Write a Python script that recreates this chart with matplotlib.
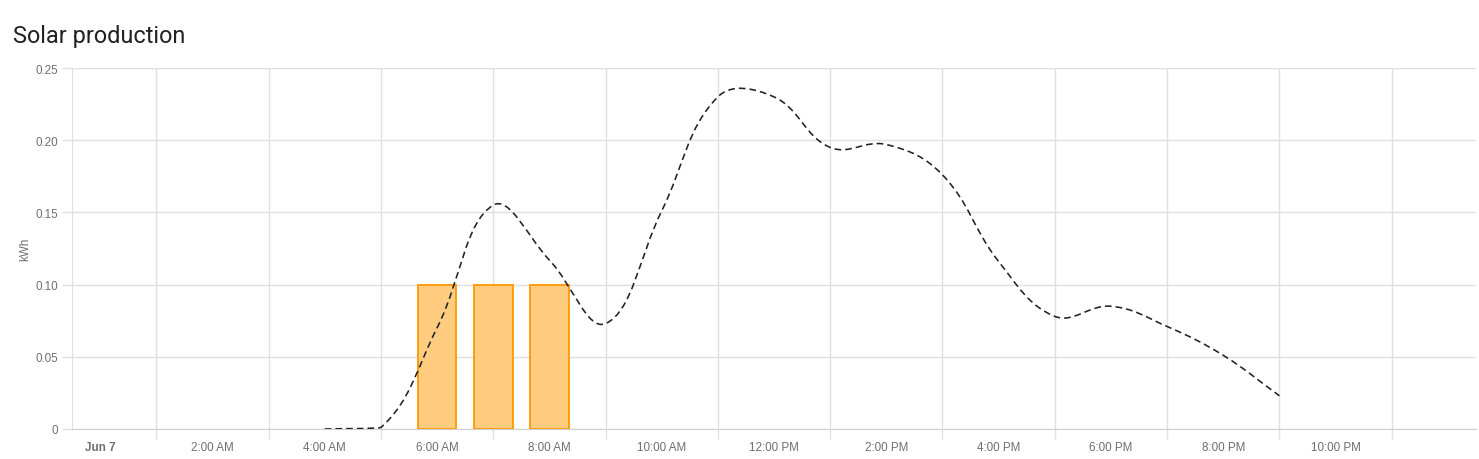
import numpy as np
import matplotlib
matplotlib.use("Agg")
import matplotlib.pyplot as plt
from matplotlib.path import Path
from matplotlib.patches import PathPatch

# hourly solar production (bars)
bar_hours = [6, 7, 8]
bar_values = [0.1, 0.1, 0.1]

# hourly forecast (dashed line)
forecast_hours = [4, 5, 6, 7, 8, 9, 10, 11, 12, 13, 14, 15, 16, 17, 18, 19, 20, 21]
forecast_values = [0.0, 0.001, 0.07, 0.155, 0.117, 0.073, 0.151, 0.23, 0.23,
                   0.195, 0.197, 0.176, 0.116, 0.078, 0.085, 0.071, 0.051, 0.023]

label_hours = [0, 2, 4, 6, 8, 10, 12, 14, 16, 18, 20, 22]
label_texts = ["Jun 7", "2:00 AM", "4:00 AM", "6:00 AM", "8:00 AM", "10:00 AM",
               "12:00 PM", "2:00 PM", "4:00 PM", "6:00 PM", "8:00 PM", "10:00 PM"]
y_ticks = [0, 0.05, 0.10, 0.15, 0.20, 0.25]
y_labels = ["0", "0.05", "0.10", "0.15", "0.20", "0.25"]

grid_color = "#e0e0e0"
text_color = "#6f6f6f"
tick_font = ["Liberation Sans", "DejaVu Sans"]

plt.rcParams["font.family"] = ["Roboto", "DejaVu Sans"]
plt.rcParams["lines.scale_dashes"] = False

W, H = 1479, 460
fig = plt.figure(figsize=(W / 100, H / 100), dpi=100)
ax = fig.add_axes([72 / W, 1 - 430 / H, (1476 - 72) / W, (430 - 69) / H])

ax.set_xlim(-0.5, 24.5)
ax.set_ylim(0, 0.25)

ax.bar(bar_hours, bar_values, width=0.69, color="#ffcc80",
       edgecolor="#ff9800", linewidth=1.3, zorder=2)


def spline_path(xs, ys, tension=0.4):
    # Chart.js style bezier through the points, computed in pixel space
    pts = ax.transData.transform(np.column_stack([xs, ys]))
    n = len(pts)
    cps_prev = []
    cps_next = []
    for i in range(n):
        prev = pts[max(i - 1, 0)]
        cur = pts[i]
        nxt = pts[min(i + 1, n - 1)]
        d01 = np.hypot(*(cur - prev))
        d12 = np.hypot(*(nxt - cur))
        tot = d01 + d12
        s01 = d01 / tot if tot else 0
        s12 = d12 / tot if tot else 0
        cps_prev.append(cur - tension * s01 * (nxt - prev))
        cps_next.append(cur + tension * s12 * (nxt - prev))
    inv = ax.transData.inverted()
    verts = [tuple(inv.transform(pts[0]))]
    codes = [Path.MOVETO]
    for i in range(n - 1):
        for p in (cps_next[i], cps_prev[i + 1], pts[i + 1]):
            x, y = inv.transform(p)
            verts.append((x, max(y, 0)))
            codes.append(Path.CURVE4)
    return Path(verts, codes)


line = PathPatch(spline_path(forecast_hours, forecast_values), facecolor="none",
                 edgecolor="#222222", linewidth=1.15, linestyle=(0, (4.8, 2.9)),
                 zorder=3)
ax.add_patch(line)

# labels sit on even hours, grid lines on odd hours
ax.set_xticks(label_hours)
ax.set_xticklabels(label_texts, family=tick_font, fontsize=8.4)
ax.set_xticks(np.arange(1, 24, 2), minor=True)
ax.tick_params(axis="x", which="major", length=0, pad=9, labelcolor=text_color)
ax.tick_params(axis="x", which="minor", length=7, color=grid_color, width=1)
ax.get_xticklabels()[0].set_fontweight("bold")

ax.set_yticks(y_ticks)
ax.set_yticklabels(y_labels, family=tick_font, fontsize=8.4)
ax.tick_params(axis="y", length=7, color=grid_color, width=1, pad=3,
               labelcolor=text_color)
ax.set_ylabel("kWh", fontsize=8.4, family=tick_font, color=text_color, labelpad=3)

ax.grid(True, which="minor", axis="x", color=grid_color, linewidth=1, zorder=0)
ax.grid(True, which="major", axis="y", color=grid_color, linewidth=1, zorder=0)
ax.set_axisbelow(True)

for side in ["top", "right"]:
    ax.spines[side].set_visible(False)
ax.spines["left"].set_color(grid_color)
ax.spines["bottom"].set_color("#cfcfcf")

fig.text(13 / W, 1 - 36 / H, "Solar production", fontsize=16.9,
         color="#212121", va="center", ha="left")

fig.savefig("out.png", dpi=100)
